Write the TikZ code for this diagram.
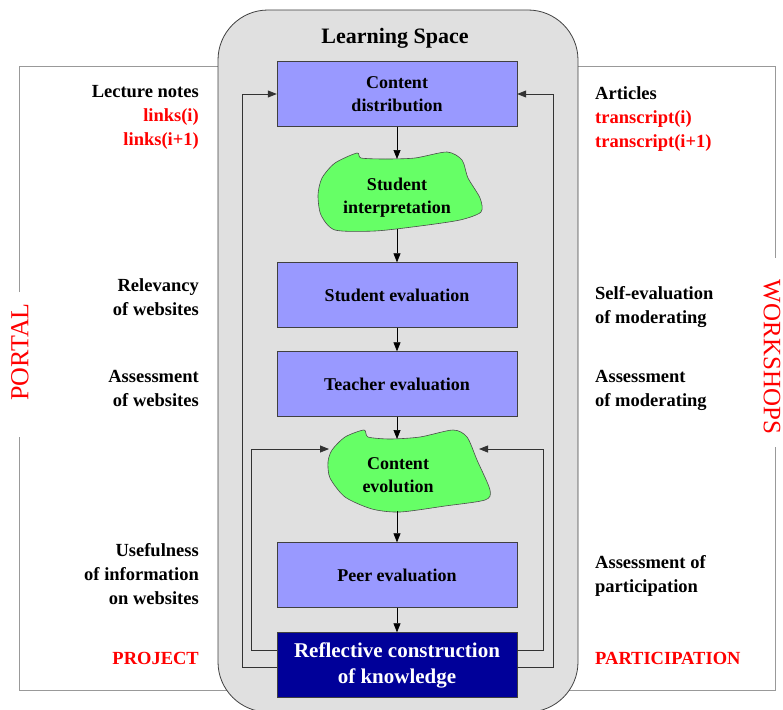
\documentclass[tikz,border=0pt]{standalone}
\usepackage{fontspec}
\setmainfont{Liberation Serif}
\usetikzlibrary{arrows.meta,calc,positioning}
\definecolor{stageblue}{HTML}{9999FF}
\definecolor{deepblue}{HTML}{000099}
\definecolor{spacegray}{HTML}{E0E0E0}
\definecolor{blobgreen}{HTML}{66FF66}

\begin{document}
\begin{tikzpicture}[x=1pt,y=-1pt,
  stage/.style={draw=gray!50!black,fill=stageblue,minimum width=240pt,minimum height=65pt,
    align=center,font=\fontsize{18}{23}\selectfont\bfseries},
  blob/.style={draw=gray!60!black,fill=blobgreen,line width=0.6pt},
  sidenote/.style={font=\fontsize{18.5}{24}\selectfont\bfseries,inner sep=0pt},
  flow/.style={-{Triangle[length=9pt,width=7pt]},line width=0.7pt},
  backflow/.style={-{Triangle[length=9pt,width=7pt]},line width=0.8pt,draw=gray!40!black},
  outerframe/.style={draw=gray!80,line width=1pt}]
\useasboundingbox (0,0) rectangle (783,709);

% outer frame with gaps for the side titles
\draw[outerframe] (19,292) -- (19,66) -- (775,66) -- (775,258);
\draw[outerframe] (775,447) -- (775,690) -- (19,690) -- (19,437);
\node[red,rotate=90,inner sep=0pt,font=\fontsize{26}{30}\selectfont] (portal) at (20,352) {PORTAL};
\node[red,rotate=-90,inner sep=0pt,font=\fontsize{25}{30}\selectfont] (workshops) at (772,357) {WORKSHOPS};

% learning space
\draw[draw=gray!50!black,fill=spacegray,line width=0.8pt,rounded corners=50pt] (218,10) rectangle (578,712);
\node[font=\fontsize{22}{26}\selectfont\bfseries] (title) at (395,38) {Learning Space};

\node[stage] (cd) at (397,94) {Content\\distribution};
\node[stage] (se) at (397,295) {Student evaluation};
\node[stage] (te) at (397,384) {Teacher evaluation};
\node[stage] (pe) at (397,575) {Peer evaluation};
\node[stage,fill=deepblue,text=white,font=\fontsize{21}{26}\selectfont\bfseries] (rk) at (397,665)
  {Reflective construction\\of knowledge};

% blobs
\draw[blob] plot[smooth cycle,tension=0.45] coordinates {(322,178) (335,163) (357,153) (361,158)
  (385,159) (415,158) (447,152) (462,160) (468,178) (480,198) (481,212) (460,220) (420,226)
  (375,231) (335,230) (321,215) (318,195)};
\node[align=center,font=\fontsize{18}{23}\selectfont\bfseries] (si) at (397,198) {Student\\interpretation};
\coordinate (si-n) at (397,159);
\coordinate (si-s) at (397,229);

\draw[blob] plot[smooth cycle,tension=0.45] coordinates {(332,450) (345,437) (364,430) (368,437)
  (390,439) (420,437) (453,430) (467,437) (477,460) (490,490) (485,500) (445,506) (400,512)
  (372,509) (345,497) (330,478) (328,462)};
\node[align=center,font=\fontsize{18}{23}\selectfont\bfseries] (ce) at (398,475) {Content\\evolution};
\coordinate (ce-n) at (397,439);
\coordinate (ce-s) at (397,511);
\coordinate (ce-w) at (329,449);
\coordinate (ce-e) at (479,449);

% main flow
\path[flow]
(cd) edge (si-n)
(si-s) edge (se)
(se) edge (te)
(te) edge (ce-n)
(ce-s) edge (pe)
(pe) edge (rk);

% feedback loops
\draw[backflow] ([yshift=-2pt]rk.west) -- ++(-34,0) |- (cd.west);
\draw[backflow] ([yshift=-2pt]rk.east) -- ++(36,0) |- (cd.east);
\draw[backflow] ([yshift=15pt]rk.west) -- ++(-25,0) |- (ce-w);
\draw[backflow] ([yshift=15pt]rk.east) -- ++(26,0) |- (ce-e);

% portal side
\node[sidenote,anchor=east,align=right] (lect) at (199,117)
  {Lecture notes\\{\color{red}links(i)}\\{\color{red}links(i+1)}};
\node[sidenote,anchor=east,align=right] (relev) at (199,297) {Relevancy\\of websites};
\node[sidenote,anchor=east,align=right] (assweb) at (199,388) {Assessment\\of websites};
\node[sidenote,anchor=east,align=right] (useful) at (199,574) {Usefulness\\of information\\on websites};
\node[sidenote,anchor=east,red] (project) at (199,658) {PROJECT};

% workshops side
\node[sidenote,anchor=west,align=left] (artic) at (595,119)
  {Articles\\{\color{red}transcript(i)}\\{\color{red}transcript(i+1)}};
\node[sidenote,anchor=west,align=left] (selfev) at (595,307) {Self-evaluation\\of moderating};
\node[sidenote,anchor=west,align=left] (assmod) at (595,390) {Assessment\\of moderating};
\node[sidenote,anchor=west,align=left] (asspart) at (595,576) {Assessment of\\participation};
\node[sidenote,anchor=west,red] (partic) at (595,658) {PARTICIPATION};
\end{tikzpicture}
\end{document}
